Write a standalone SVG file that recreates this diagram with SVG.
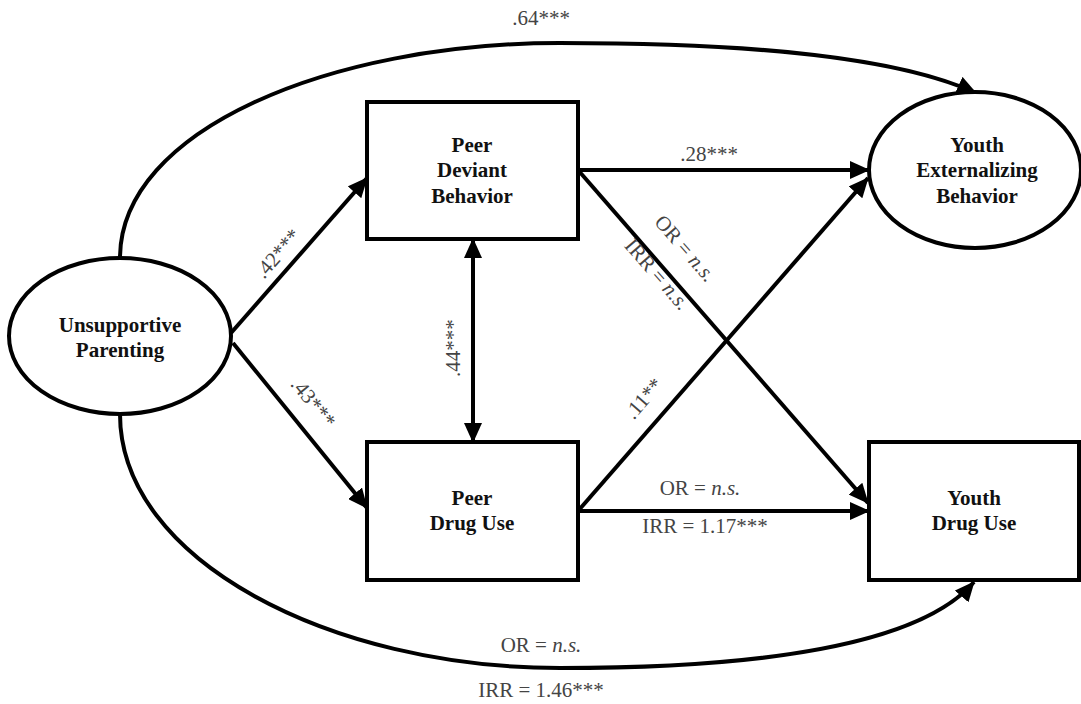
<svg xmlns="http://www.w3.org/2000/svg" width="1081" height="704" viewBox="0 0 1081 704">
<defs>
<style>
.node{fill:#fff;stroke:#000;stroke-width:4}
.nt{font-family:"Liberation Serif","Times New Roman","DejaVu Serif",serif;font-weight:bold;font-size:21px;fill:#111;text-anchor:middle}
.lbl{font-family:"Liberation Serif","Times New Roman","DejaVu Serif",serif;font-size:21px;fill:#444;text-anchor:middle}
.edge{fill:none;stroke:#000;stroke-width:4}
</style>
<marker id="ah" markerUnits="userSpaceOnUse" markerWidth="20" markerHeight="18" refX="19" refY="9" orient="auto-start-reverse">
<path d="M0,0 L20,9 L0,18 z" fill="#000"/>
</marker>
</defs>
<rect width="1081" height="704" fill="#fff"/>
<g id="connectors">
<path class="edge" d="M120,258 C120,130 330,43 560,43 C760,43 900,58 976,93" marker-end="url(#ah)"/>
<path class="edge" d="M120,414 C120,560 330,668 560,668 C760,668 920,645 974,582" marker-end="url(#ah)"/>
<path class="edge" d="M231,333 L367,178" marker-end="url(#ah)"/>
<path class="edge" d="M233,343 L367,508" marker-end="url(#ah)"/>
<path class="edge" d="M473,239 L473,442" marker-start="url(#ah)" marker-end="url(#ah)"/>
<path class="edge" d="M578,170 L869,170" marker-end="url(#ah)"/>
<path class="edge" d="M578,170 L868,503" marker-end="url(#ah)"/>
<path class="edge" d="M578,511 L868,178" marker-end="url(#ah)"/>
<path class="edge" d="M578,511 L869,511" marker-end="url(#ah)"/>
</g>
<g id="labels">
<text class="lbl" x="541" y="25">.64***</text>
<text class="lbl" x="709" y="161">.28***</text>
<text class="lbl" transform="translate(283,258) rotate(-49)">.42***</text>
<text class="lbl" transform="translate(308,407) rotate(51)">.43***</text>
<text class="lbl" transform="translate(460,348) rotate(-90)">.44***</text>
<text class="lbl" transform="translate(680,253) rotate(49)">OR = <tspan font-style="italic">n.s.</tspan></text>
<text class="lbl" transform="translate(652,279) rotate(49)">IRR = <tspan font-style="italic">n.s.</tspan></text>
<text class="lbl" transform="translate(649,403) rotate(-49)">.11**</text>
<text class="lbl" x="700" y="495">OR = <tspan font-style="italic">n.s.</tspan></text>
<text class="lbl" x="705" y="533">IRR = 1.17***</text>
<text class="lbl" x="541" y="652">OR = <tspan font-style="italic">n.s.</tspan></text>
<text class="lbl" x="541" y="697">IRR = 1.46***</text>
</g>
<g id="unsupportive-parenting">
<ellipse class="node" cx="120" cy="336" rx="111" ry="78"/>
<text class="nt" x="120" y="332">Unsupportive</text>
<text class="nt" x="120" y="357">Parenting</text>
</g>
<g id="peer-deviant-behavior">
<rect class="node" x="367" y="102" width="211" height="137"/>
<text class="nt" x="472" y="152">Peer</text>
<text class="nt" x="472" y="177">Deviant</text>
<text class="nt" x="472" y="203">Behavior</text>
</g>
<g id="peer-drug-use">
<rect class="node" x="367" y="442" width="211" height="138"/>
<text class="nt" x="472" y="505">Peer</text>
<text class="nt" x="472" y="530">Drug Use</text>
</g>
<g id="youth-externalizing-behavior">
<ellipse class="node" cx="975" cy="170" rx="106" ry="78"/>
<text class="nt" x="977" y="152">Youth</text>
<text class="nt" x="977" y="177">Externalizing</text>
<text class="nt" x="977" y="203">Behavior</text>
</g>
<g id="youth-drug-use">
<rect class="node" x="869" y="442" width="210" height="138"/>
<text class="nt" x="974" y="505">Youth</text>
<text class="nt" x="974" y="530">Drug Use</text>
</g>
</svg>
